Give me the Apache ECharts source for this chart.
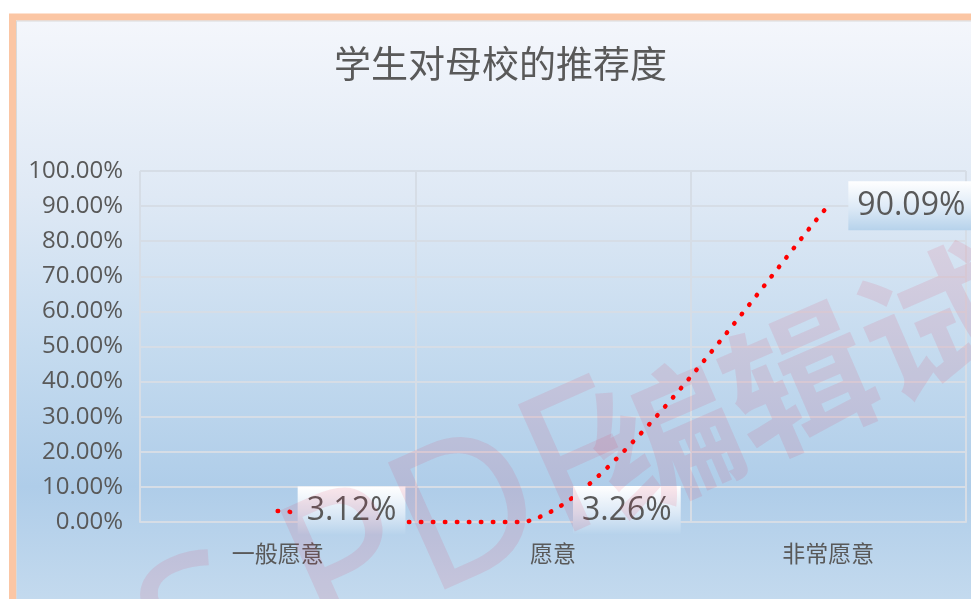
<!DOCTYPE html>
<html>
<head>
<meta charset="utf-8">
<title>学生对母校的推荐度</title>
<script src="https://cdn.jsdelivr.net/npm/echarts@6/dist/echarts.min.js"></script>
<style>
  html, body { margin: 0; padding: 0; background: #fff; }
  #chart { width: 971px; height: 599px; }
</style>
</head>
<body>
<div id="chart"></div>
<script>
// 数据
var categories = ['一般愿意', '愿意', '非常愿意'];
var values = [3.12, 3.26, 90.09];   // 百分比
var yTicks = [0, 100, 10];          // min, max, interval

var chart = echarts.init(document.getElementById('chart'));

var gridColor = '#d6dde6';
var textColor = '#595959';
var markColor = 'rgba(228, 40, 70, 0.11)';

// 数据标签背景（白到浅蓝渐变）
var labelBg = new echarts.graphic.LinearGradient(0, 0, 0, 1, [
  { offset: 0, color: '#ffffff' },
  { offset: 0.55, color: '#dce9f6' },
  { offset: 1, color: '#b6d2eb' }
]);

// 类似表格软件的平滑曲线：贝塞尔控制点取相邻点连线的 0.15，超出绘图区的部分贴边
function renderCurve(params, api) {
  if (params.dataIndex !== 0) return;
  var pts = values.map(function (v, i) { return api.coord([i, v]); });
  var yBottom = api.coord([0, yTicks[0]])[1];
  var yTop = api.coord([0, yTicks[1]])[1];
  var k = 0.15;
  var out = [];
  for (var i = 0; i < pts.length - 1; i++) {
    var p0 = pts[i - 1] || pts[i];
    var p1 = pts[i];
    var p2 = pts[i + 1];
    var p3 = pts[i + 2] || pts[i + 1];
    var c1 = [p1[0] + (p2[0] - p0[0]) * k, p1[1] + (p2[1] - p0[1]) * k];
    var c2 = [p2[0] - (p3[0] - p1[0]) * k, p2[1] - (p3[1] - p1[1]) * k];
    for (var s = (i === 0 ? 0 : 1); s <= 60; s++) {
      var t = s / 60, u = 1 - t;
      var x = u * u * u * p1[0] + 3 * u * u * t * c1[0] + 3 * u * t * t * c2[0] + t * t * t * p2[0];
      var y = u * u * u * p1[1] + 3 * u * u * t * c1[1] + 3 * u * t * t * c2[1] + t * t * t * p2[1];
      out.push([x, Math.max(yTop, Math.min(yBottom, y))]);
    }
  }
  return {
    type: 'polyline',
    shape: { points: out },
    style: {
      fill: null,
      stroke: '#ff0000',
      lineWidth: 4.5,
      lineDash: [0.5, 11.5],
      lineCap: 'round'
    }
  };
}

var option = {
  animation: false,
  backgroundColor: '#ffffff',
  title: {
    text: '学生对母校的推荐度',
    left: 329,
    top: 40,
    textStyle: {
      fontFamily: 'Noto Sans CJK SC',
      fontSize: 37,
      fontWeight: 'normal',
      color: textColor
    }
  },
  graphic: [
    // 外框 + 渐变背景
    {
      type: 'rect',
      z: -10,
      shape: { x: 12.5, y: 17, width: 1000, height: 600 },
      style: {
        fill: new echarts.graphic.LinearGradient(0, 0, 0, 1, [
          { offset: 0, color: '#f5f7fc' },
          { offset: 0.3, color: '#dfe9f5' },
          { offset: 0.55, color: '#c5dbef' },
          { offset: 0.78, color: '#afcde9' },
          { offset: 1, color: '#c7dcef' }
        ]),
        stroke: '#fbc6a4',
        lineWidth: 7
      }
    },
    {
      type: 'rect',
      z: -9,
      shape: { x: 16.5, y: 21, width: 1000, height: 600 },
      style: { fill: null, stroke: '#d9d9d9', lineWidth: 1 }
    },
    // 水印
    {
      type: 'text',
      z: 100,
      x: -160,
      y: 692,
      rotation: 0.42,
      silent: true,
      style: {
        text: 'WPS PDF',
        font: '195px "Noto Sans"',
        fill: markColor,
        align: 'left',
        verticalAlign: 'alphabetic'
      }
    },
    {
      type: 'text',
      z: 100,
      x: 598,
      y: 468,
      rotation: 0.41,
      silent: true,
      style: {
        text: '编辑试用',
        font: 'bold 146px "Noto Sans CJK SC"',
        fill: markColor,
        align: 'left',
        verticalAlign: 'middle'
      }
    }
  ],
  grid: {
    left: 140,
    right: 5,
    top: 171,
    bottom: 77
  },
  xAxis: {
    type: 'category',
    data: categories,
    boundaryGap: true,
    axisLine: { show: true, lineStyle: { color: gridColor, width: 2 } },
    axisTick: { show: false },
    splitLine: { show: true, lineStyle: { color: gridColor, width: 2 } },
    axisLabel: {
      margin: 20,
      fontFamily: 'Noto Sans CJK SC',
      fontSize: 23,
      color: textColor
    }
  },
  yAxis: {
    type: 'value',
    min: yTicks[0],
    max: yTicks[1],
    interval: yTicks[2],
    axisLine: { show: false },
    axisTick: { show: false },
    splitLine: { show: true, lineStyle: { color: gridColor, width: 2 } },
    axisLabel: {
      margin: 17,
      fontFamily: 'Open Sans',
      fontSize: 24,
      color: textColor,
      formatter: function (v) { return v.toFixed(2) + '%'; }
    }
  },
  series: [{
    // 平滑虚点线
    type: 'custom',
    z: 1,
    silent: true,
    renderItem: renderCurve,
    data: values.map(function (v, i) { return [i, v]; })
  }, {
    // 数据标签
    type: 'line',
    z: 3,
    data: values,
    showSymbol: true,
    symbol: 'circle',
    symbolSize: 2,
    itemStyle: { color: 'rgba(0,0,0,0)' },
    lineStyle: { opacity: 0 },
    label: {
      show: true,
      position: 'right',
      distance: 19,
      fontFamily: 'Open Sans',
      fontSize: 32,
      lineHeight: 38,
      color: textColor,
      backgroundColor: labelBg,
      padding: [6, 9, 5, 9],
      formatter: function (p) { return p.value.toFixed(2) + '%'; }
    }
  }]
};

chart.setOption(option);
</script>
</body>
</html>
